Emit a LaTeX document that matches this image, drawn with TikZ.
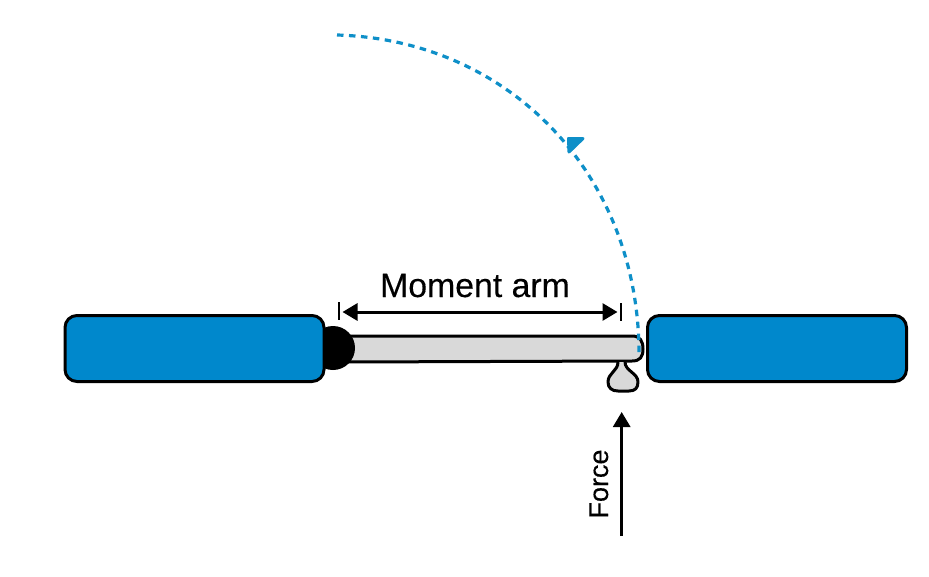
\documentclass[tikz,border=0pt]{standalone}
\usepackage{fontspec}
\setmainfont[FakeBold=0.25]{Liberation Sans}
\usetikzlibrary{arrows.meta}
\definecolor{boxblue}{HTML}{0088CC}
\definecolor{arcblue}{HTML}{0E8FC8}
\definecolor{armgray}{HTML}{D9D9D9}
\tikzset{
  x=1pt,y=-1pt,
  blockbox/.style={draw=black,line width=3pt,fill=boxblue,rounded corners=12pt,minimum width=259pt,minimum height=66pt,inner sep=0pt},
  outline/.style={draw=black,line width=3pt,line join=round},
  dim/.style={line width=3pt,-{Triangle[length=15pt,width=17pt]}},
  tick/.style={line width=1.8pt},
  label/.style={font=\fontsize{33.8}{40}\selectfont,text=black,inner sep=0pt},
  flabel/.style={font=\fontsize{27}{34}\selectfont,text=black,inner sep=0pt,rotate=90},
}
\begin{document}
\begin{tikzpicture}
\useasboundingbox (0,0) rectangle (929,576);
% arm
\draw[outline,fill=armgray] (345,336) -- (632,336) .. controls (640,336) and (643,341) .. (643,349)
  .. controls (643,357) and (640,361) .. (632,361) -- (345,362) -- cycle;
% bulb
\draw[outline,fill=armgray] (618,362) .. controls (618,371) and (608,373) .. (608,382)
  .. controls (608,388) and (612,391) .. (618,391) -- (629,391)
  .. controls (635,391) and (638,388) .. (638,382) .. controls (638,373) and (625,371) .. (625,362);
% joint
\fill[black] (333,348) circle (22);
\node[minimum size=0pt,inner sep=0pt] (joint) at (333,348) {};
% blocks
\node[blockbox] (left) at (194.5,348.5) {};
\node[blockbox] (right) at (777,348.5) {};
% blue rotation arc
\coordinate (arcstart) at (337,35);
\coordinate (arcend) at (639,354);
\draw[arcblue,line width=3.2pt,dash pattern=on 6.5pt off 5.5pt] (arcstart)
  .. controls (510,40) and (639,175) .. (arcend);
\fill[arcblue,draw=arcblue,line width=3pt,line join=round] (568.5,138.5) -- (583,138.5) -- (569,152) -- cycle;
% moment arm dimension
\coordinate (dl) at (339,312);
\coordinate (dr) at (621,312);
\draw[tick] (339,302) -- (339,320);
\draw[tick] (621,303) -- (621,321);
\draw[line width=3pt,{Triangle[length=15pt,width=17pt]}-{Triangle[length=15pt,width=17pt]}] ([xshift=3.5pt]dl) -- ([xshift=-3.5pt]dr);
\node[label,anchor=base] (arm) at (475,297) {Moment arm};
% force
\coordinate (fb) at (621.7,536);
\coordinate (ft) at (621.7,412);
\draw[dim] (fb) -- (ft);
\node[flabel,anchor=base] (force) at (608,484) {Force};
\end{tikzpicture}
\end{document}
